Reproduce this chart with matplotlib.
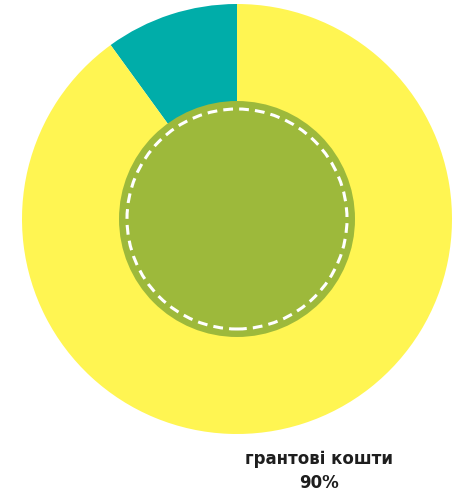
import matplotlib.pyplot as plt
from matplotlib.patches import Circle

# shares of the budget
labels = ['інші кошти', 'грантові кошти']
values = [10, 90]
colors = ['#00ADA9', '#FFF552']

fig = plt.figure(figsize=(4.58, 4.93), dpi=100)
ax = fig.add_axes([0, 0, 1, 1])

cx, cy = 237, 274
ax.pie(values, colors=colors, startangle=90, counterclock=True,
       center=(cx, cy), radius=215, frame=True,
       wedgeprops=dict(linewidth=0))
ax.set_xlim(0, 458)
ax.set_ylim(0, 493)
ax.set_aspect('equal')
ax.axis('off')

# green centre with dashed white ring
ax.add_patch(Circle((cx, cy), 118, facecolor='#9DB93B', edgecolor='none', zorder=3))
ax.add_patch(Circle((cx, cy), 110, facecolor='none', edgecolor='white',
                    linewidth=2.2, linestyle=(0, (3.2, 2.0)), zorder=4))

ax.text(319, 493 - 459, labels[1], ha='center', va='center',
        fontsize=12, fontweight='bold', family='DejaVu Sans', color='#1e1e1e')
ax.text(319, 493 - 483, f'{values[1]}%', ha='center', va='center',
        fontsize=12, fontweight='bold', family='DejaVu Sans', color='#1e1e1e')

fig.savefig('out.png', dpi=100)
